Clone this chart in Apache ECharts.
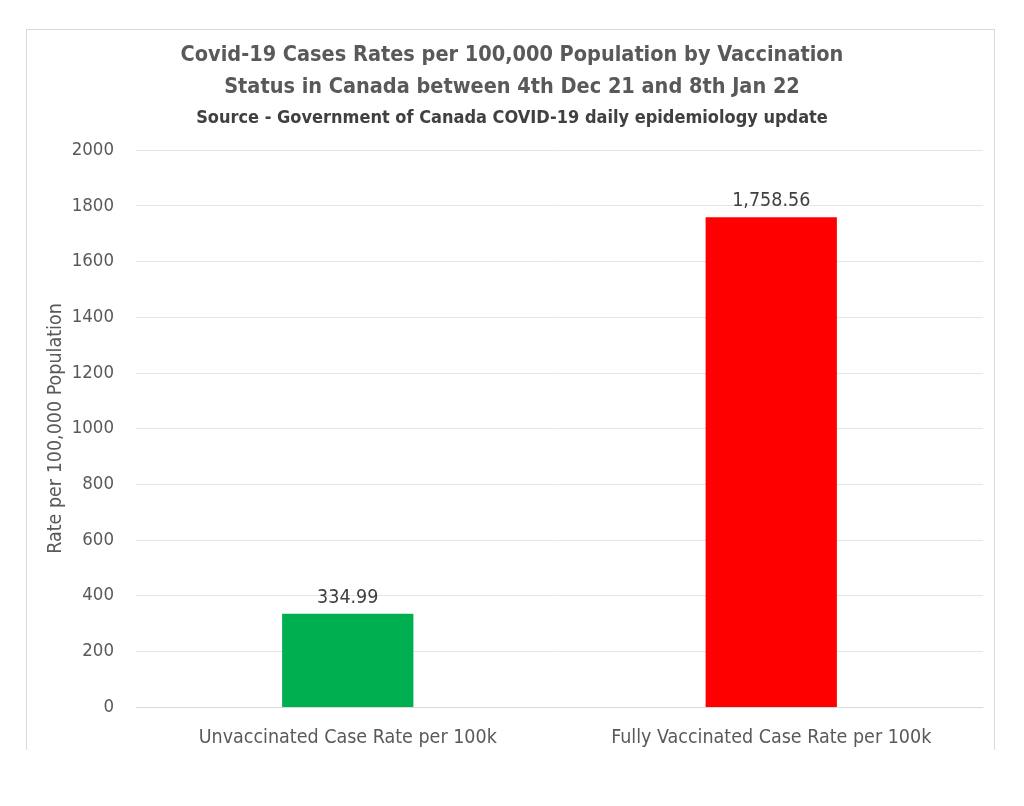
<!DOCTYPE html>
<html><head><meta charset="utf-8">
<script src="https://cdn.jsdelivr.net/npm/echarts@6/dist/echarts.min.js"></script>
<style>html,body{margin:0;padding:0;background:#fff}#c{width:1024px;height:806px}</style>
</head><body><div id="c"></div>
<script>
const categories = ["Unvaccinated Case Rate per 100k", "Fully Vaccinated Case Rate per 100k"];
const rates = [334.99, 1758.56];
const barColors = ["#00b050", "#ff0000"];
const titleLines = ["Covid-19 Cases Rates per 100,000 Population by Vaccination", "Status in Canada between 4th Dec 21 and 8th Jan 22"];
const sourceText = "Source - Government of Canada COVID-19 daily epidemiology update";
const yAxisName = "Rate per 100,000 Population";

const FONT = "'Liberation Sans Narrow', 'DejaVu Sans Condensed', 'Noto Sans', sans-serif";
const chart = echarts.init(document.getElementById('c'));
chart.setOption({
  animation: false,
  backgroundColor: '#ffffff',
  graphic: [{
    type: 'polyline', silent: true,
    shape: { points: [[26.5, 750], [26.5, 29.5], [994.5, 29.5], [994.5, 750]] },
    style: { stroke: '#d9d9d9', lineWidth: 1, fill: null }
  }],
  title: [
    { text: titleLines.join('\n'), left: 'center', top: 34,
      textStyle: { fontFamily: FONT, fontSize: 21.5, fontWeight: 'bold', color: '#595959', lineHeight: 32 } },
    { text: sourceText, left: 'center', top: 104,
      textStyle: { fontFamily: FONT, fontSize: 18, fontWeight: 'bold', color: '#404040' } }
  ],
  grid: { left: 136, right: 41, top: 150, bottom: 99, containLabel: false },
  xAxis: {
    type: 'category', data: categories,
    axisLine: { show: true, lineStyle: { color: '#d9d9d9' } },
    axisTick: { show: false },
    axisLabel: { fontFamily: FONT, fontSize: 19.5, color: '#595959', margin: 21 }
  },
  yAxis: {
    type: 'value', min: 0, max: 2000, interval: 200,
    name: yAxisName, nameLocation: 'middle', nameGap: 70, nameRotate: 90, nameMoveOverlap: false,
    nameTextStyle: { fontFamily: FONT, fontSize: 19.5, color: '#595959' },
    axisLine: { show: false }, axisTick: { show: false },
    axisLabel: { fontFamily: FONT, fontSize: 18.5, color: '#595959', margin: 22, formatter: v => String(v) },
    splitLine: { lineStyle: { color: '#e6e6e6', width: 1 } }
  },
  series: [{
    type: 'bar', barWidth: '31%',
    data: rates.map((v, i) => ({ value: v, itemStyle: { color: barColors[i] } })),
    label: {
      show: true, position: 'top', distance: 6,
      fontFamily: FONT, fontSize: 19.5, color: '#404040',
      formatter: p => p.value.toLocaleString('en-US', { minimumFractionDigits: 2, maximumFractionDigits: 2 })
    }
  }]
});
</script></body></html>
